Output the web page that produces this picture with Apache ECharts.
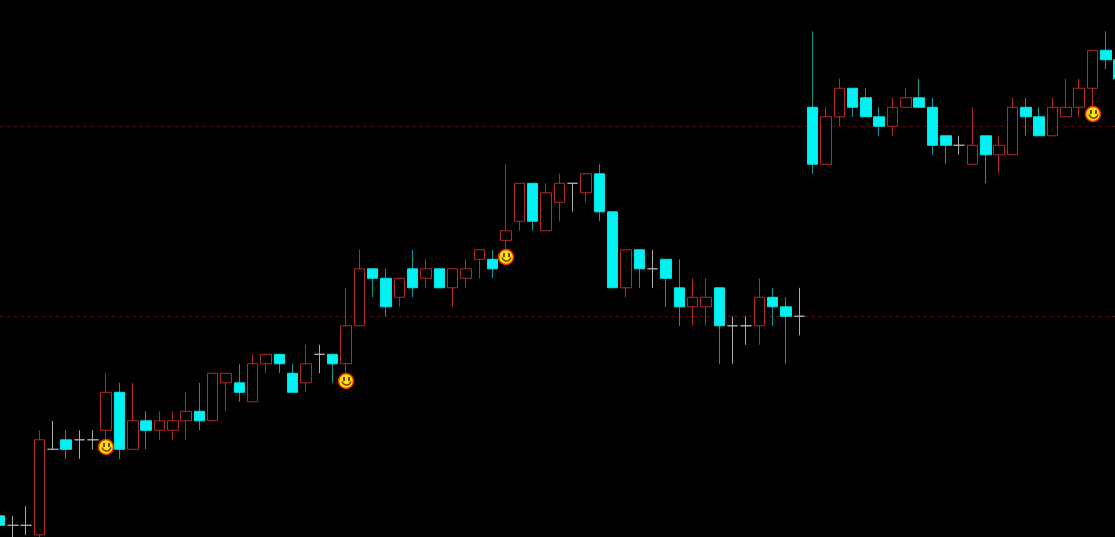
<!DOCTYPE html>
<html>
<head>
<meta charset="utf-8">
<title>Candles</title>
<script src="https://cdn.jsdelivr.net/npm/echarts@6/dist/echarts.min.js"></script>
<style>
  html, body { margin: 0; padding: 0; background: #000; }
  #chart { width: 1115px; height: 537px; }
</style>
</head>
<body>
<div id="chart"></div>
<script>
// prices are in ticks
const opens = [2,1,1,0,9,10,10,10,11,15,9,12,11,11,12,13,12,16,16,14,18,19,17,16,19,19,18,22,28,27,25,28,27,28,26,27,29,29,31,33,37,32,35,37,36,38,34,26,30,28,29,26,24,24,26,22,22,22,25,24,23,45,39,44,47,46,44,43,45,46,45,42,41,39,42,40,40,45,44,42,44,45,47,51,50];
const closes = [1,1,1,10,9,9,10,10,15,9,12,11,12,12,13,12,17,17,15,18,19,18,15,18,19,18,22,28,27,24,27,26,28,26,28,28,30,28,32,37,33,36,37,37,38,34,26,30,28,28,27,24,25,25,22,22,22,25,24,23,23,39,44,47,45,44,43,45,46,45,41,41,41,41,40,41,45,44,42,45,45,47,51,50,48];
const lows = [1,-1,0,-1,9,8,8,9,10,8,9,9,10,10,10,11,12,13,14,14,17,17,15,15,17,16,17,22,25,23,24,25,26,26,24,26,27,27,30,32,32,32,33,34,35,33,26,25,26,26,24,22,22,22,18,18,20,20,22,18,21,38,39,43,44,44,42,42,45,45,40,39,40,39,37,38,40,42,42,42,44,44,44,49,48];
const highs = [2,2,3,11,12,11,11,11,17,16,16,13,13,13,15,16,17,17,18,19,19,19,18,20,20,19,26,30,28,28,27,30,29,28,28,29,30,30,39,37,37,37,38,37,38,39,34,30,30,30,29,29,27,27,26,23,23,27,26,25,26,53,45,48,47,47,45,46,47,48,46,42,42,45,42,42,46,46,45,46,48,48,51,53,50];
const categories = opens.map((_, i) => String(i));
const dashedLevels = [43, 23];
const smileyBars = [8, 26, 38, 82];
const smileyLevels = [9.25, 16.2, 29.25, 44.3];

const PITCH = 13.33;
const RED = '#b02a2a';

const wickData = opens.map((o, i) => [o, closes[i], lows[i], highs[i]]);
const bodyData = opens.map((o, i) => {
  const c = closes[i];
  return [o, c, Math.min(o, c), Math.max(o, c)];
});

function renderSmiley(params, api) {
  const p = api.coord([api.value(0), api.value(1)]);
  return {
    type: 'group',
    x: Math.round(p[0]),
    y: Math.round(p[1]),
    children: [
      {type: 'circle', shape: {cx: 0, cy: 0, r: 7.5}, style: {fill: '#ffe600', stroke: '#f52a00', lineWidth: 1.5}},
      {type: 'rect', shape: {x: -3, y: -4, width: 2, height: 4}, style: {fill: '#7a3a00'}},
      {type: 'rect', shape: {x: 2, y: -4, width: 2, height: 4}, style: {fill: '#7a3a00'}},
      {type: 'arc', shape: {cx: 0.5, cy: -0.5, r: 4.5, startAngle: 0.2, endAngle: Math.PI - 0.2}, style: {stroke: '#7a3a00', fill: null, lineWidth: 1.5}}
    ]
  };
}

const myChart = echarts.init(document.getElementById('chart'));
myChart.setOption({
  animation: false,
  backgroundColor: '#000',
  grid: {
    left: -7.2,
    top: 0,
    width: PITCH * categories.length,
    height: 537,
    outerBoundsMode: 'none'
  },
  xAxis: {
    type: 'category',
    data: categories,
    boundaryGap: true,
    show: false
  },
  yAxis: {
    type: 'value',
    min: -0.23,
    max: 56.29,
    show: false,
    splitLine: {show: false}
  },
  series: [
    {
      // wicks, a bit darker than the bodies
      type: 'candlestick',
      data: wickData,
      barWidth: 1,
      z: 2,
      itemStyle: {
        color: RED,
        color0: '#0f9797',
        borderColor: RED,
        borderColor0: '#0f9797',
        borderColorDoji: '#a8a8a8',
        borderWidth: 1
      },
      markLine: {
        silent: true,
        symbol: 'none',
        z: 1,
        label: {show: false},
        lineStyle: {color: '#5e0f0f', type: [3, 4], width: 1},
        data: dashedLevels.map(v => ({yAxis: v}))
      }
    },
    {
      type: 'candlestick',
      data: bodyData,
      barWidth: 11,
      z: 3,
      itemStyle: {
        color: '#000',
        color0: '#00f2f2',
        borderColor: RED,
        borderColor0: '#00e6e6',
        borderColorDoji: '#b0b0b0',
        borderWidth: 1
      }
    },
    {
      type: 'custom',
      renderItem: renderSmiley,
      z: 4,
      data: smileyBars.map((b, i) => [b, smileyLevels[i]])
    }
  ]
});
</script>
</body>
</html>
